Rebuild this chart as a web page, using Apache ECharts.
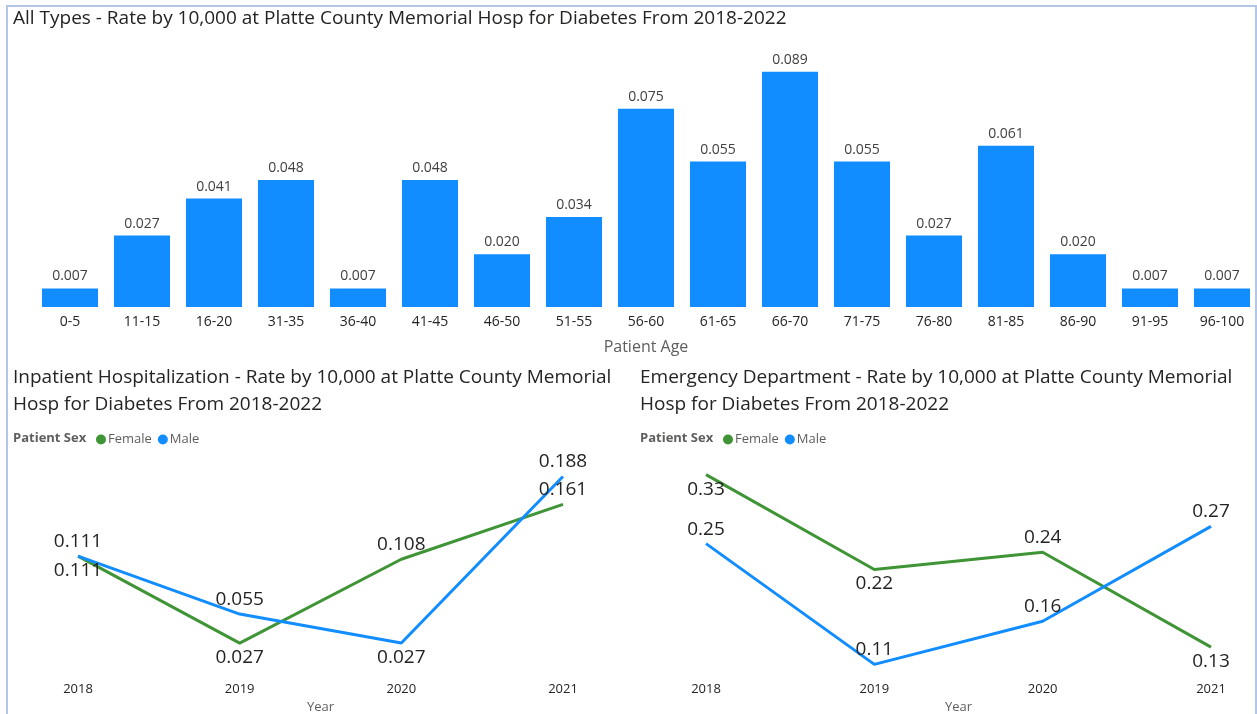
<!DOCTYPE html>
<html>
<head>
<meta charset="utf-8">
<script src="https://cdn.jsdelivr.net/npm/echarts@6/dist/echarts.min.js"></script>
<style>
  html, body { margin: 0; padding: 0; background: #fff; }
  #chart { position: absolute; left: 0; top: 0; width: 1257px; height: 714px; }
  #frame {
    position: absolute; left: 6px; top: 5px; width: 1247px; height: 720px;
    border: 2px solid #b4c6e7; pointer-events: none;
  }
</style>
</head>
<body>
<div id="chart"></div>
<div id="frame"></div>
<script>
// age groups - all types
const ageGroups = ["0-5", "11-15", "16-20", "31-35", "36-40", "41-45", "46-50", "51-55", "56-60",
  "61-65", "66-70", "71-75", "76-80", "81-85", "86-90", "91-95", "96-100"];
const ageRates = [0.007, 0.027, 0.041, 0.048, 0.007, 0.048, 0.020, 0.034, 0.075,
  0.055, 0.089, 0.055, 0.027, 0.061, 0.020, 0.007, 0.007];

const years = ["2018", "2019", "2020", "2021"];

// inpatient hospitalization
const inpatientFemale = [0.111, 0.027, 0.108, 0.161];
const inpatientMale = [0.111, 0.055, 0.027, 0.188];

// emergency department
const edFemale = [0.33, 0.22, 0.24, 0.13];
const edMale = [0.25, 0.11, 0.16, 0.27];

// where each point label sits
const inpatientFemalePos = ["bottom", "bottom", "top", "top"];
const inpatientMalePos = ["top", "top", "bottom", "top"];
const edFemalePos = ["bottom", "bottom", "top", "bottom"];
const edMalePos = ["top", "top", "top", "top"];

const BLUE = "#118DFF";
const GREEN = "#3F9436";
const TEXT = "#252423";
const SUB = "#605E5C";
const FONT = "'Open Sans', 'Noto Sans', sans-serif";

const chart = echarts.init(document.getElementById("chart"));

const withPos = (values, pos) =>
  values.map((v, i) => ({ value: v, label: { position: pos[i] } }));

const lineSeries = (name, color, values, pos, idx, digits) => ({
  name,
  type: "line",
  xAxisIndex: idx,
  yAxisIndex: idx,
  data: withPos(values, pos),
  symbol: "circle",
  symbolSize: 0,
  itemStyle: { color },
  lineStyle: { color, width: 3 },
  label: {
    show: true,
    distance: 5,
    fontSize: 19,
    color: TEXT,
    fontFamily: FONT,
    formatter: (p) => p.value.toFixed(digits),
  },
  emphasis: { disabled: true },
});

const yearAxis = (idx, margin) => ({
  type: "category",
  gridIndex: idx,
  data: years,
  boundaryGap: false,
  axisLine: { show: false },
  axisTick: { show: false },
  axisLabel: { fontSize: 13, color: TEXT, margin, fontFamily: FONT },
  name: "Year",
  nameLocation: "middle",
  nameGap: margin + 18,
  nameTextStyle: { fontSize: 13, color: SUB, fontFamily: FONT },
});

const titleStyle = { fontSize: 19, fontWeight: "normal", color: TEXT, lineHeight: 27, fontFamily: FONT };
const legendStyle = {
  data: ["Female", "Male"], top: 428, icon: "circle",
  itemWidth: 10, itemHeight: 10, itemGap: 6,
  textStyle: { fontSize: 13, color: SUB, padding: [0, 0, 0, -3], fontFamily: FONT },
};

const option = {
  animation: false,
  textStyle: { fontFamily: FONT },
  title: [
    {
      text: "All Types - Rate by 10,000 at Platte County Memorial Hosp for Diabetes From 2018-2022",
      left: 8, top: 4,
      textStyle: { fontSize: 19, fontWeight: "normal", color: TEXT, fontFamily: FONT },
    },
    {
      text: "Inpatient Hospitalization - Rate by 10,000 at Platte County Memorial\nHosp for Diabetes From 2018-2022",
      left: 8, top: 359,
      textStyle: titleStyle,
    },
    {
      text: "Emergency Department - Rate by 10,000 at Platte County Memorial\nHosp for Diabetes From 2018-2022",
      left: 635, top: 359,
      textStyle: titleStyle,
    },
    {
      text: "Patient Sex", left: 8, top: 427,
      textStyle: { fontSize: 13, fontWeight: "bold", color: SUB, fontFamily: FONT },
    },
    {
      text: "Patient Sex", left: 635, top: 427,
      textStyle: { fontSize: 13, fontWeight: "bold", color: SUB, fontFamily: FONT },
    },
  ],
  legend: [
    Object.assign({ left: 91 }, legendStyle),
    Object.assign({ left: 718 }, legendStyle),
  ],
  grid: [
    { left: 34, top: 40, width: 1224, height: 267, outerBoundsMode: "none" },
    { left: 78, top: 464, width: 485, height: 207, outerBoundsMode: "none" },
    { left: 706, top: 466, width: 505, height: 207, outerBoundsMode: "none" },
  ],
  xAxis: [
    {
      type: "category",
      gridIndex: 0,
      data: ageGroups,
      axisLine: { show: false },
      axisTick: { show: false },
      axisLabel: { fontSize: 14, color: TEXT, margin: 8, interval: 0, fontFamily: FONT },
      name: "Patient Age",
      nameLocation: "middle",
      nameGap: 32,
      nameTextStyle: { fontSize: 16, color: SUB, fontFamily: FONT },
    },
    yearAxis(1, 12),
    yearAxis(2, 10),
  ],
  yAxis: [
    { type: "value", gridIndex: 0, show: false, min: 0, max: 0.101, splitLine: { show: false } },
    { type: "value", gridIndex: 1, show: false, min: 0, max: 0.2, splitLine: { show: false } },
    { type: "value", gridIndex: 2, show: false, min: 0.1, max: 0.34, splitLine: { show: false } },
  ],
  series: [
    {
      name: "Rate",
      type: "bar",
      xAxisIndex: 0,
      yAxisIndex: 0,
      data: ageRates,
      barWidth: 56,
      itemStyle: { color: BLUE },
      label: {
        show: true,
        position: "top",
        distance: 5,
        fontSize: 14,
        color: "#404040",
        fontFamily: FONT,
        formatter: (p) => p.value.toFixed(3),
      },
      emphasis: { disabled: true },
    },
    lineSeries("Female", GREEN, inpatientFemale, inpatientFemalePos, 1, 3),
    lineSeries("Male", BLUE, inpatientMale, inpatientMalePos, 1, 3),
    lineSeries("Female", GREEN, edFemale, edFemalePos, 2, 2),
    lineSeries("Male", BLUE, edMale, edMalePos, 2, 2),
  ],
};

chart.setOption(option);
</script>
</body>
</html>
